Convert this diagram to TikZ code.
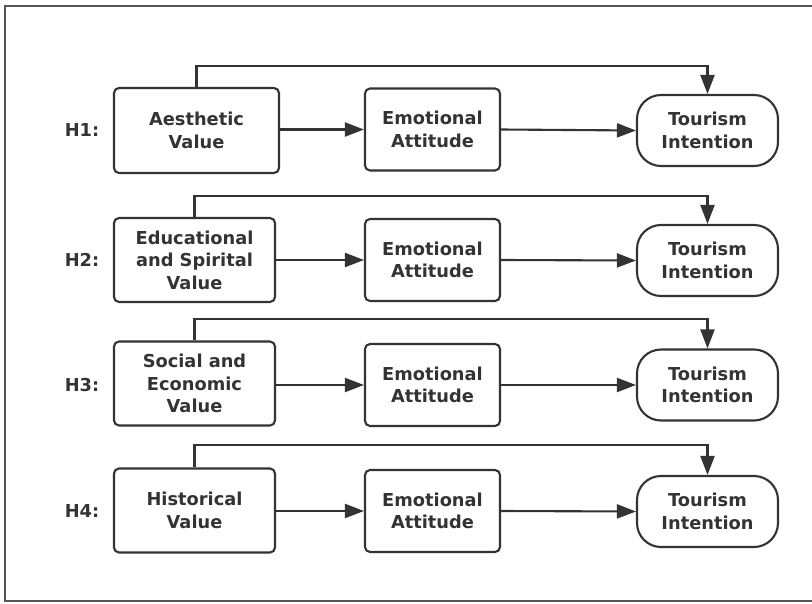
\documentclass[tikz,border=0pt]{standalone}
\usepackage{fontspec}
\setmainfont{DejaVu Sans}
\usetikzlibrary{arrows.meta}
\definecolor{ink}{HTML}{333333}
\definecolor{frame}{HTML}{555555}
\tikzset{
  base/.style={draw=ink, line width=2.1pt, text=ink, align=center, font=\bfseries\fontsize{17.8}{22.5}\selectfont, inner sep=0pt},
  valbox/.style={base, rounded corners=5pt, minimum width=161pt, minimum height=84pt},
  emobox/.style={base, rounded corners=5pt, minimum width=135pt, minimum height=82pt},
  tourbox/.style={base, rounded corners=24pt, minimum width=141pt, minimum height=71pt},
  hlab/.style={text=ink, font=\bfseries\fontsize{17.8}{22.5}\selectfont},
  arr/.style={draw=ink, line width=2.1pt, -{Triangle[length=19pt,width=14pt]}},
}
\begin{document}
\begin{tikzpicture}[x=1pt,y=-1pt]
\useasboundingbox (0,0) rectangle (812,604);
\draw[frame, line width=2pt] (830,6) -- (5,6) -- (5,601) -- (830,601);
% Row 1
\node[valbox, minimum width=165pt, minimum height=85pt] (a1) at (196.5,130.5) {Aesthetic\\Value};
\node[emobox] (e1) at (432.5,129.5) {Emotional\\Attitude};
\node[tourbox] (t1) at (707.5,130.5) {Tourism\\Intention};
\node[hlab] (h1) at (82,130.5) {H1:};
\coordinate (k1) at (450,66);
% Row 2
\node[valbox] (a2) at (194.5,260) {Educational\\and Spirital\\Value};
\node[emobox] (e2) at (432.5,260) {Emotional\\Attitude};
\node[tourbox] (t2) at (707.5,260.5) {Tourism\\Intention};
\node[hlab] (h2) at (82,260) {H2:};
\coordinate (k2) at (450,196);
% Row 3
\node[valbox] (a3) at (194.5,383.5) {Social and\\Economic\\Value};
\node[emobox] (e3) at (432.5,385) {Emotional\\Attitude};
\node[tourbox] (t3) at (707.5,385) {Tourism\\Intention};
\node[hlab] (h3) at (82,385) {H3:};
\coordinate (k3) at (450,319);
% Row 4
\node[valbox] (a4) at (194.5,510.5) {Historical\\Value};
\node[emobox] (e4) at (432.5,511) {Emotional\\Attitude};
\node[tourbox] (t4) at (707.5,511.5) {Tourism\\Intention};
\node[hlab] (h4) at (82,511) {H4:};
\coordinate (k4) at (450,445);
\foreach \i in {1,2,3,4}{
  \draw[arr] (a\i.east |- e\i.center) -- (e\i.west);
  \draw[arr] (e\i.east) -- (t\i.west);
  \draw[arr] (a\i.north) |- (k\i) -| (t\i.north);
}
\end{tikzpicture}
\end{document}
